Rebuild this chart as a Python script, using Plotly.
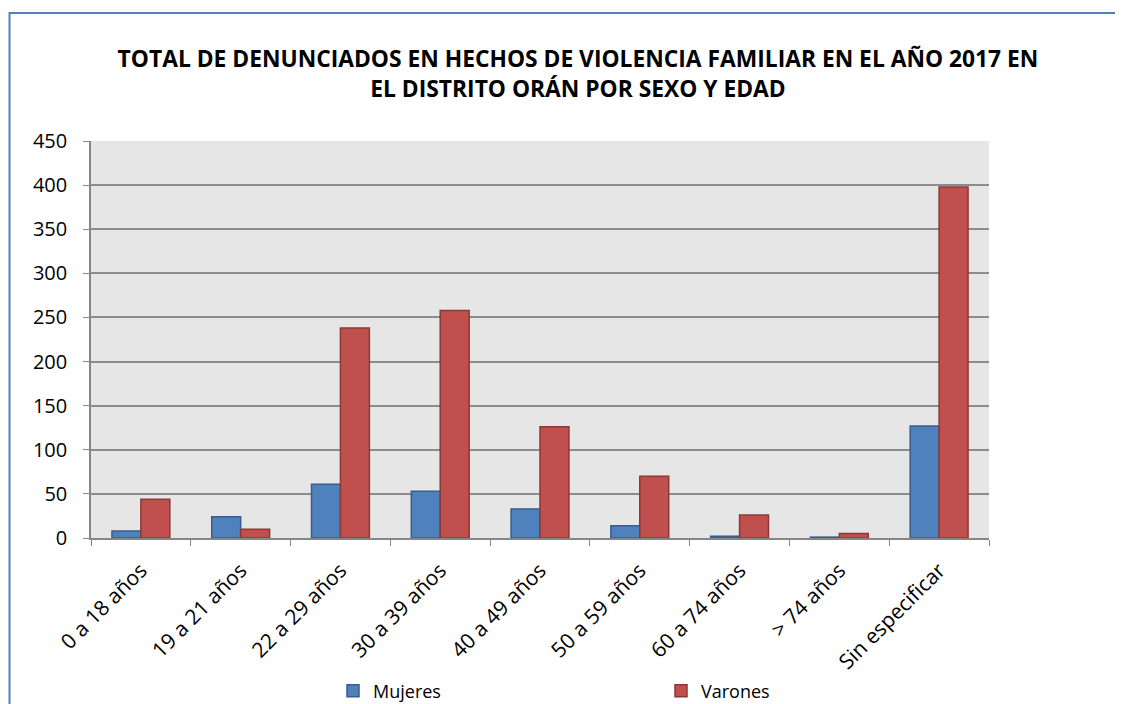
import plotly.graph_objects as go

categories = ["0 a 18 años", "19 a 21 años", "22 a 29 años", "30 a 39 años", "40 a 49 años",
              "50 a 59 años", "60 a 74 años", "> 74 años", "Sin especificar"]
mujeres = [8, 24, 61, 53, 33, 14, 2, 1, 127]
varones = [44, 10, 238, 258, 126, 70, 26, 5, 398]

# the page body has an 8px margin, so lay out in page pixels minus that offset
OFF = 8
W, H = 1123 - OFF, 704 - OFF
L, T = 91 - OFF, 141 - OFF
pw, ph = 898, 397
R, B = W - L - pw, H - T - ph

fig = go.Figure()
fig.add_trace(go.Bar(name="Mujeres", x=categories, y=mujeres,
                     marker=dict(color="#4F81BD", line=dict(color="#385D8A", width=1.5))))
fig.add_trace(go.Bar(name="Varones", x=categories, y=varones,
                     marker=dict(color="#C0504D", line=dict(color="#8C3836", width=1.5))))

def px(x):
    return (x - OFF - L) / pw

def py(y):
    return (H - B - (y - OFF)) / ph

fig.update_layout(
    width=W, height=H,
    margin=dict(l=L, r=R, t=T, b=B, autoexpand=False),
    paper_bgcolor="white", plot_bgcolor="#E6E6E6",
    barmode="group", bargap=0.42, bargroupgap=0,
    font=dict(family="Open Sans, Arial", size=18, color="black"),
    title=dict(text="<b>TOTAL DE DENUNCIADOS EN HECHOS DE VIOLENCIA FAMILIAR EN EL AÑO 2017 EN<br>EL DISTRITO ORÁN POR SEXO Y EDAD</b>",
               x=px(578), xanchor="center", xref="paper", y=1 - (67 - OFF) / H, yanchor="middle",
               font=dict(family="Open Sans, Arial", size=22.8, color="black")),
    showlegend=True,
    legend=dict(orientation="h", x=px(333), xanchor="left", y=py(691), yanchor="middle",
                entrywidth=283, entrywidthmode="pixels", bgcolor="rgba(0,0,0,0)",
                font=dict(size=18, family="Open Sans, Arial"), itemwidth=30, traceorder="normal"),
    xaxis=dict(tickangle=-45, showline=True, linecolor="#868686", linewidth=1.5,
               ticks="outside", tickson="boundaries", ticklen=6, tickcolor="#868686",
               showgrid=False, ticklabelstandoff=10,
               tickfont=dict(size=21, family="Open Sans, Arial")),
    yaxis=dict(range=[0, 450], dtick=50, showline=True, linecolor="#868686", linewidth=1.5,
               ticks="outside", ticklen=6, tickcolor="#868686",
               gridcolor="#8C8C8C", gridwidth=1.5, zeroline=False, ticklabelstandoff=12,
               tickfont=dict(size=20, family="Open Sans, Arial")),
    shapes=[dict(type="rect", xref="paper", yref="paper",
                 x0=px(OFF + 1.5), x1=px(1140), y0=py(720), y1=py(13),
                 line=dict(color="#4F81BD", width=2), fillcolor="rgba(0,0,0,0)", layer="below")],
)

fig.write_html("out.html")
